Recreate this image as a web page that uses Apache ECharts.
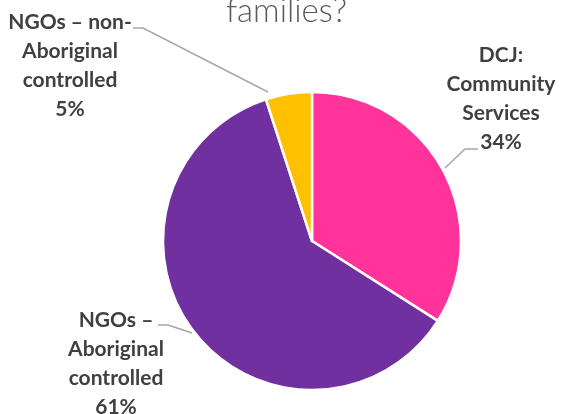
<!DOCTYPE html>
<html>
<head>
<meta charset="utf-8">
<script src="https://cdn.jsdelivr.net/npm/echarts@6/dist/echarts.min.js"></script>
<style>
  html, body { margin: 0; padding: 0; background: #ffffff; }
  #chart { width: 561px; height: 414px; }
</style>
</head>
<body>
<div id="chart"></div>
<script>
// Provider categories and their share of services (percent)
const categories = [
  'DCJ:\nCommunity\nServices',
  'NGOs –\nAboriginal\ncontrolled',
  'NGOs – non-\nAboriginal\ncontrolled'
];
const shares = [34, 61, 5];
const sliceColors = ['#FF3399', '#7030A0', '#FFC000'];

// Where each label block sits and how its leader line bends
const labelSpots = [
  { x: 501, y: 99,  line: [[445, 168], [465, 149], [478, 149]] },
  { x: 116, y: 364, line: [[192, 333], [168, 325], [158, 325]] },
  { x: 70,  y: 66,  line: [[268, 92], [143, 28], [133, 28]] }
];

const chart = echarts.init(document.getElementById('chart'), null, { renderer: 'canvas' });

chart.setOption({
  animation: false,
  backgroundColor: '#ffffff',
  title: {
    text: 'families?',
    left: 226,
    top: -5,
    padding: 0,
    textStyle: {
      fontFamily: 'Lato',
      fontWeight: 300,
      fontSize: 33,
      color: '#595959'
    }
  },
  series: [{
    type: 'pie',
    center: [312, 241],
    radius: 149,
    startAngle: 90,
    clockwise: true,
    avoidLabelOverlap: false,
    itemStyle: { borderColor: '#ffffff', borderWidth: 2.5 },
    label: {
      show: true,
      formatter: '{b}\n{d}%',
      fontFamily: 'Lato',
      fontWeight: 'bold',
      fontSize: 21,
      lineHeight: 29,
      color: '#404040',
      align: 'center'
    },
    labelLine: {
      show: true,
      lineStyle: { color: '#A6A6A6', width: 1.5 }
    },
    labelLayout: function (params) {
      const s = labelSpots[params.dataIndex];
      return {
        x: s.x,
        y: s.y,
        align: 'center',
        verticalAlign: 'middle',
        labelLinePoints: s.line
      };
    },
    data: categories.map((name, i) => ({
      name: name,
      value: shares[i],
      itemStyle: { color: sliceColors[i] }
    }))
  }]
});
</script>
</body>
</html>
